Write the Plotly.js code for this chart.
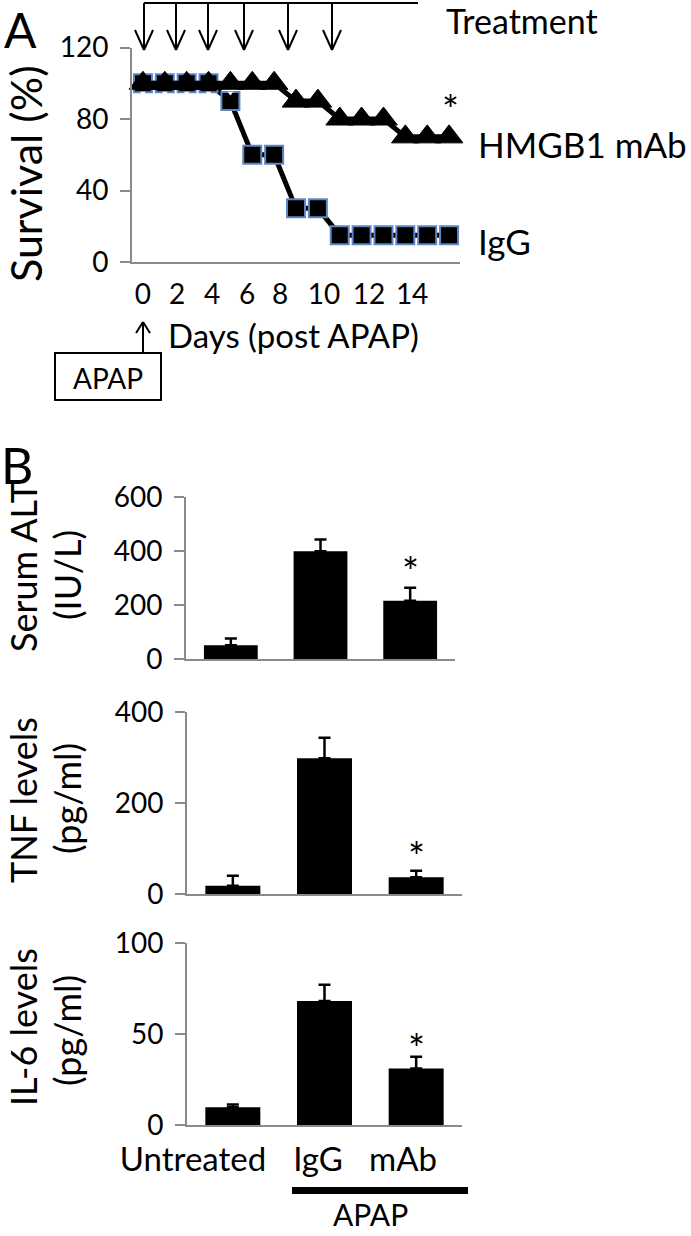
<!DOCTYPE html>
<html>
<head>
<meta charset="utf-8">
<script src="https://cdn.plot.ly/plotly-3.0.1.min.js"></script>
<style>html,body{margin:0;padding:0;background:#fff;}#chart{width:691px;height:1236px;}</style>
</head>
<body>
<div id="chart"></div>
<script>
// ---------- DATA ----------
// Panel A: survival (15 consecutive observation points)
const points = [0,1,2,3,4,5,6,7,8,9,10,11,12,13,14];
const survivalHMGB1 = [100,100,100,100,100,100,100,90,90,80,80,80,70,70,70];
const survivalIgG   = [100,100,100,100,90,60,60,30,30,15,15,15,15,15,15];
const dayTickLabels = ['0','2','4','6','8','10','12','14'];
// Panel B: bar charts
const groups = ['Untreated','IgG','mAb'];
const groupIdx = [0,1,2];
const alt = [52,400,217];
const altErr = [25,44,48];
const tnf = [18,298,37];
const tnfErr = [22,45,14];
const il6 = [9.7,68,31];
const il6Err = [1.5,9,6.5];

// ---------- LAYOUT HELPERS ----------
const W = 691, H = 1236;
const px = x => x / W;
const py = y => 1 - y / H;
const FONT = 'Lato, "Open Sans", sans-serif';
const AX = '#8a8a8a';

const dayTickPos = [0, 1.56, 3.16, 4.76, 6.27, 8.28, 10.34, 12.31];
const groupLabelPos = [-0.435, 0.929, 1.856];

function yAxis(domain, range, dtick, anchor){
  return {domain, range, dtick, anchor, showline:true, linecolor:AX, linewidth:2,
    showgrid:false, zeroline:false, ticks:'outside', ticklen:10, tickwidth:2, tickcolor:AX,
    tickfont:{size:28, color:'#000', family:FONT}, ticklabelstandoff:6, fixedrange:true};
}
function xAxisBar(domain, anchor, labels){
  const a = {domain, range:[-0.5,2.5], anchor, showline:true, linecolor:AX, linewidth:2,
    showgrid:false, zeroline:false, ticks:'', fixedrange:true, showticklabels:false};
  if (labels){
    a.showticklabels = true; a.tickmode='array'; a.tickvals = groupLabelPos; a.ticktext = labels;
    a.tickfont = {size:33, color:'#000', family:FONT}; a.tickangle = 0; a.ticklabelstandoff = 4;
  }
  return a;
}

const traces = [
  {x:points, y:survivalIgG, type:'scatter', mode:'lines+markers', xaxis:'x', yaxis:'y',
   line:{color:'#000', width:5}, cliponaxis:false,
   marker:{symbol:'square', size:18, color:'#000', line:{color:'#5f86c4', width:2}}},
  {x:points, y:survivalHMGB1, type:'scatter', mode:'lines+markers', xaxis:'x', yaxis:'y',
   line:{color:'#000', width:5}, cliponaxis:false,
   marker:{symbol:'triangle-up', size:24, color:'#000', line:{color:'#000', width:1}}},
  {x:points, y:survivalHMGB1.map(v => v - 5.5), type:'scatter', mode:'markers', xaxis:'x', yaxis:'y',
   cliponaxis:false, hoverinfo:'skip',
   marker:{symbol:'triangle-down', size:5, color:'#fff', line:{width:0}}},
  {x:groupIdx, y:alt, type:'bar', xaxis:'x2', yaxis:'y2', width:0.6, marker:{color:'#000'},
   error_y:{type:'data', symmetric:false, array:altErr, arrayminus:[0,0,0], color:'#000', thickness:2.5, width:6}},
  {x:groupIdx, y:tnf, type:'bar', xaxis:'x3', yaxis:'y3', width:0.6, marker:{color:'#000'},
   error_y:{type:'data', symmetric:false, array:tnfErr, arrayminus:[0,0,0], color:'#000', thickness:2.5, width:6}},
  {x:groupIdx, y:il6, type:'bar', xaxis:'x4', yaxis:'y4', width:0.6, marker:{color:'#000'},
   error_y:{type:'data', symmetric:false, array:il6Err, arrayminus:[0,0,0], color:'#000', thickness:2.5, width:6}}
];

// decorative shapes (arrows, box, bracket bar)
const shapes = [];
function line(x0,y0,x1,y1,w){ shapes.push({type:'line', xref:'paper', yref:'paper',
  x0:px(x0), y0:py(y0), x1:px(x1), y1:py(y1), line:{color:'#000', width:w||2}}); }
line(144,3,418,3);
[144,176,208,244,288,332].forEach(x => {
  line(x,3,x,50); line(x-9,30,x,50); line(x,50,x+9,30);
});
line(143,322,143,353); line(136,333,143,322); line(143,322,150,333);
shapes.push({type:'rect', xref:'paper', yref:'paper', x0:px(55), y0:py(353), x1:px(161), y1:py(400),
  line:{color:'#000', width:2}, fillcolor:'rgba(0,0,0,0)'});
shapes.push({type:'rect', xref:'paper', yref:'paper', x0:px(292), y0:py(1187), x1:px(468), y1:py(1194),
  line:{width:0}, fillcolor:'#000'});

function ann(text, x, y, size, opts){
  return Object.assign({text, x:px(x), y:py(y), xref:'paper', yref:'paper', showarrow:false,
    xanchor:'center', yanchor:'middle', font:{size, color:'#000', family:FONT}}, opts||{});
}
function star(xr, yr, y, shift){
  return {text:'*', x:2, y, xref:xr, yref:yr, showarrow:false, yanchor:'middle', yshift:shift,
    font:{size:40, family:FONT, color:'#000'}};
}
const annotations = [
  ann('A', 20, 29, 48),
  ann('B', 17, 465, 50),
  ann('Treatment', 444, 20, 34, {xanchor:'left'}),
  ann('HMGB1 mAb', 476, 144, 35, {xanchor:'left'}),
  ann('IgG', 476, 241, 35, {xanchor:'left'}),
  ann('*', 450, 110, 40),
  ann('Days (post APAP)', 166, 335, 33, {xanchor:'left'}),
  ann('Survival (%)', 26, 174, 43, {textangle:-90}),
  ann('APAP', 108, 378, 28),
  ann('Serum ALT', 23, 567, 36, {textangle:-90}),
  ann('(IU/L)', 67, 575, 36, {textangle:-90}),
  ann('TNF levels', 23, 800, 36, {textangle:-90}),
  ann('(pg/ml)', 67, 799, 36, {textangle:-90}),
  ann('IL-6 levels', 23, 1027, 36, {textangle:-90}),
  ann('(pg/ml)', 67, 1031, 36, {textangle:-90}),
  ann('APAP', 370, 1214, 30),
  star('x2','y2', alt[2]+altErr[2], 16),
  star('x3','y3', tnf[2]+tnfErr[2], 14),
  star('x4','y4', il6[2]+il6Err[2], 8)
];

const layout = {
  width:W, height:H, margin:{l:0,r:0,t:0,b:0}, paper_bgcolor:'#fff', plot_bgcolor:'#fff',
  showlegend:false, font:{family:FONT, color:'#000'},
  xaxis:{domain:[px(132), px(460)], range:[-0.5,14.5], anchor:'y', showline:true, linecolor:AX, linewidth:2,
    showgrid:false, zeroline:false, ticks:'', tickmode:'array', tickvals:dayTickPos, ticktext:dayTickLabels,
    tickfont:{size:28, color:'#000', family:FONT}, ticklabelstandoff:6, fixedrange:true},
  yaxis:yAxis([py(262), py(47.5)], [0,120], 40, 'x'),
  xaxis2:xAxisBar([px(186), px(455)], 'y2'),
  yaxis2:yAxis([py(659.3), py(497.3)], [0,600], 200, 'x2'),
  xaxis3:xAxisBar([px(187), px(462)], 'y3'),
  yaxis3:yAxis([py(894), py(711.7)], [0,400], 200, 'x3'),
  xaxis4:xAxisBar([px(187), px(462)], 'y4', groups),
  yaxis4:yAxis([py(1125), py(942.7)], [0,100], 50, 'x4'),
  shapes, annotations
};
Plotly.newPlot('chart', traces, layout, {staticPlot:true, displayModeBar:false});
</script>
</body>
</html>
